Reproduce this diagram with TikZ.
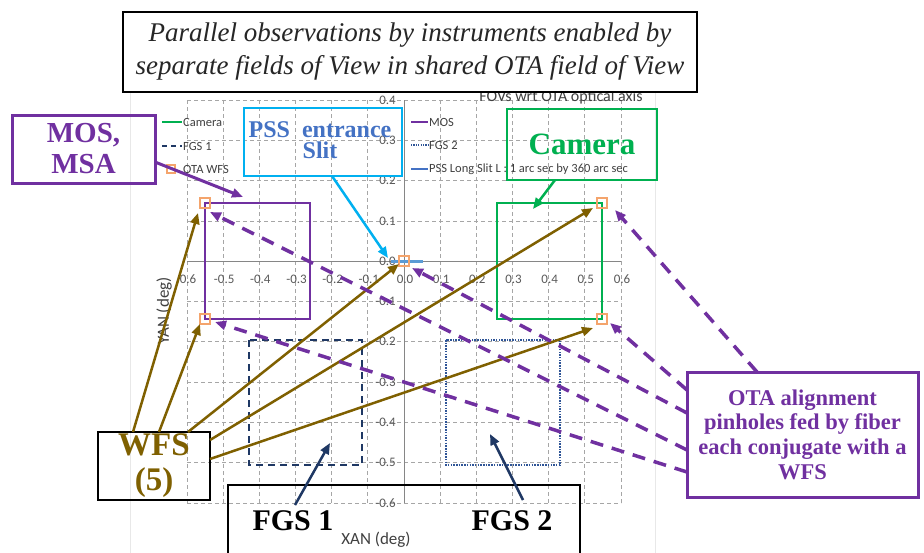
\documentclass[tikz,border=0pt]{standalone}
\usepackage{fontspec}
\setmainfont{Liberation Serif}
\newfontfamily\chartfont{Carlito}
\usetikzlibrary{arrows.meta}
\definecolor{mospurple}{HTML}{7030A0}
\definecolor{camgreen}{HTML}{00B050}
\definecolor{psscyan}{HTML}{00B0F0}
\definecolor{pssblue}{HTML}{4472C4}
\definecolor{slitblue}{HTML}{5B9BD5}
\definecolor{wfsgold}{HTML}{7F6000}
\definecolor{fgsnavy}{HTML}{1F3864}
\definecolor{fgstwo}{HTML}{2F5597}
\definecolor{pinorange}{HTML}{F4A46C}
\definecolor{gridgray}{HTML}{A6A6A6}
\definecolor{axisgray}{HTML}{868686}
\definecolor{labelgray}{HTML}{595959}
\definecolor{legtextcol}{HTML}{404040}
\definecolor{areagray}{HTML}{E8E8E8}
\begin{document}
\begin{tikzpicture}[x=1pt,y=-1pt,
  cbox/.style={draw, rectangle, inner sep=0pt, align=center},
  tipped/.style={-{Triangle[length=11pt,width=9pt]}},
  gridln/.style={gridgray, line width=0.8pt, dash pattern=on 4pt off 3pt},
  pin/.style={draw=pinorange, line width=1.5pt, minimum size=10pt, inner sep=0pt, rectangle},
  ticklab/.style={font=\chartfont\fontsize{13}{13}\selectfont, text=labelgray, inner sep=0pt},
  legtext/.style={font=\chartfont\fontsize{12.5}{13}\selectfont, text=legtextcol, anchor=west, inner sep=0pt},
  purpledash/.style={mospurple, line width=3.5pt, dash pattern=on 13pt off 9pt, tipped},
  goldarrow/.style={wfsgold, line width=2.5pt, tipped},
]
\useasboundingbox (0,0) rectangle (924,552);
\clip (0,0) rectangle (924,552);
\fill[white] (0,0) rectangle (924,552);

% chart area
\draw[areagray, line width=0.8pt] (130,88) rectangle (655,560);

% grid
\foreach \i in {0,...,12} \draw[gridln] ({187+36.167*\i},100) -- ({187+36.167*\i},503);
\foreach \j in {0,...,10} \draw[gridln] (187,{100+40.3*\j}) -- (621,{100+40.3*\j});
\draw[axisgray, line width=1pt] (404,100) -- (404,503);
\draw[axisgray, line width=1pt] (187,261) -- (621,261);

% tick labels
\foreach \i/\t in {0/0.6,1/-0.5,2/-0.4,3/-0.3,4/-0.2,5/-0.1,6/0.0,7/0.1,8/0.2,9/0.3,10/0.4,11/0.5,12/0.6}
  \node[ticklab] (xt\i) at ({188+36.167*\i},279) {\t};
\foreach \j/\t in {0/0.4,1/0.3,2/0.2,3/0.1,4/0.0,5/-0.1,6/-0.2,7/-0.3,8/-0.4,9/-0.5,10/-0.6}
  \node[ticklab, anchor=east] (yt\j) at (396,{100+40.3*\j}) {\t};

% axis titles
\node[font=\chartfont\fontsize{16}{16}\selectfont, text=legtextcol, inner sep=0pt] (charttitle) at (561,97) {FOVs wrt OTA optical axis};
\node[font=\chartfont\fontsize{17}{17}\selectfont, text=legtextcol, inner sep=0pt] (xlabel) at (376,540) {XAN (deg)};
\node[font=\chartfont\fontsize{17}{17}\selectfont, text=legtextcol, inner sep=0pt, rotate=90] (ylabel) at (164,311) {YAN (deg)};

% legend
\draw[camgreen, line width=2pt] (162,122) -- (182,122);
\node[legtext] (lgcam) at (183,122) {Camera};
\draw[fgsnavy, line width=2pt, dash pattern=on 5pt off 4pt] (162,146) -- (182,146);
\node[legtext] (lgfgsa) at (183,146) {FGS 1};
\node[pin, minimum size=8pt, line width=1.3pt] (lgpin) at (171,169) {};
\node[legtext] (lgota) at (183,169) {OTA WFS};
\draw[mospurple, line width=2pt] (411,122) -- (428,122);
\node[legtext] (lgmos) at (429,122) {MOS};
\draw[fgstwo, line width=1.2pt, dash pattern=on 1.2pt off 1.2pt] (411,145) -- (428,145);
\node[legtext] (lgfgsb) at (429,145) {FGS 2};
\draw[pssblue, line width=2pt] (411,169) -- (428,169);
\node[legtext] (lgpss) at (429,169) {PSS Long Slit L : 1 arc sec by 360 arc sec};

% field of view rectangles
\draw[mospurple, line width=2pt] (205,203) rectangle (310,319);
\draw[camgreen, line width=2pt] (497,203) rectangle (602,319);
\draw[fgsnavy, line width=2.5pt, dash pattern=on 7pt off 5pt] (249,340) rectangle (362,465);
\draw[fgstwo, line width=1.5pt, dash pattern=on 1.5pt off 1.2pt] (446,340) rectangle (560,465);
\draw[slitblue, line width=3pt] (391,261) -- (423,261);

% pinholes
\node[pin] (p1) at (205,203) {};
\node[pin] (p2) at (205,319) {};
\node[pin] (p0) at (404,261) {};
\node[pin] (p3) at (602,203) {};
\node[pin] (p4) at (602,319) {};

% callout boxes
\node[draw=black, line width=2.5pt, fill=white, minimum width=574pt, minimum height=80pt, inner sep=0pt, align=center, text=black!85, font=\itshape\fontsize{27}{33}\selectfont] (title) at (410,52) {Parallel observations by instruments enabled by\\separate fields of View in shared OTA field of View};
\node[cbox, draw=mospurple, line width=3pt, minimum width=143pt, minimum height=68pt, text=mospurple, font=\bfseries\fontsize{29}{31}\selectfont] (mos) at (83.5,149) {MOS,\\MSA};
\node[cbox, draw=psscyan, line width=2.5pt, minimum width=158pt, minimum height=68pt] (pss) at (323,142) {};
\node[text=pssblue, font=\bfseries\fontsize{24}{21}\selectfont, align=center, inner sep=0pt] (psstext) at (320,140) {PSS\ \ entrance\\Slit};
\node[cbox, draw=camgreen, line width=2.5pt, minimum width=150pt, minimum height=71pt, text=camgreen, font=\bfseries\fontsize{31}{31}\selectfont] (cam) at (582,144.5) {Camera};
\node[cbox, draw=black, line width=2.5pt, minimum width=112pt, minimum height=68pt, text=wfsgold, font=\bfseries\fontsize{33}{35}\selectfont] (wfs) at (154,466) {WFS\\(5)};
\node[cbox, draw=black, line width=2.5pt, minimum width=352pt, minimum height=75pt] (fgsbox) at (404,522.5) {};
\node[text=black, font=\bfseries\fontsize{30}{30}\selectfont, inner sep=0pt] (fgsa) at (293,521) {FGS 1};
\node[text=black, font=\bfseries\fontsize{30}{30}\selectfont, inner sep=0pt] (fgsb) at (512,521) {FGS 2};
\node[cbox, draw=mospurple, line width=3pt, minimum width=231pt, minimum height=125pt, text=mospurple, font=\bfseries\fontsize{22.5}{24.7}\selectfont] (ota) at (802.5,434.5) {OTA alignment\\pinholes fed by fiber\\each conjugate with a\\WFS};

% connector end points
\coordinate (mosS) at (155,162);   \coordinate (mosT) at (243,197);
\coordinate (pssS) at (332,176);   \coordinate (pssT) at (388,258);
\coordinate (camS) at (555,180);   \coordinate (camT) at (533,209);
\coordinate (fgsaS) at (295,505);  \coordinate (fgsaT) at (330,443);
\coordinate (fgsbS) at (523,500);  \coordinate (fgsbT) at (490,434);
\coordinate (w1) at (133,432); \coordinate (g1) at (198,213);
\coordinate (w2) at (159,432); \coordinate (g2) at (200,324);
\coordinate (w3) at (188,432); \coordinate (g3) at (399,264);
\coordinate (w4) at (210,440); \coordinate (g4) at (593,208);
\coordinate (w5) at (210,459); \coordinate (g5) at (593,328);
\coordinate (o1) at (757,372); \coordinate (d1) at (615,210);
\coordinate (o2) at (687,390); \coordinate (d2) at (610,323);
\coordinate (o3) at (687,413); \coordinate (d3) at (412,268);
\coordinate (o4) at (687,450); \coordinate (d4) at (210,212);
\coordinate (o5) at (687,472); \coordinate (d5) at (215,322);

% connectors
\draw[mospurple, line width=3pt, tipped] (mosS) -- (mosT);
\draw[psscyan, line width=2.5pt, tipped] (pssS) -- (pssT);
\draw[camgreen, line width=2.5pt, tipped] (camS) -- (camT);
\draw[fgsnavy, line width=2.5pt, tipped] (fgsaS) -- (fgsaT);
\draw[fgsnavy, line width=2.5pt, tipped] (fgsbS) -- (fgsbT);
\draw[goldarrow] (w1) -- (g1);
\draw[goldarrow] (w2) -- (g2);
\draw[goldarrow] (w3) -- (g3);
\draw[goldarrow] (w4) -- (g4);
\draw[goldarrow] (w5) -- (g5);
\draw[purpledash] (o1) -- (d1);
\draw[purpledash] (o2) -- (d2);
\draw[purpledash] (o3) -- (d3);
\draw[purpledash] (o4) -- (d4);
\draw[purpledash] (o5) -- (d5);
\end{tikzpicture}
\end{document}
